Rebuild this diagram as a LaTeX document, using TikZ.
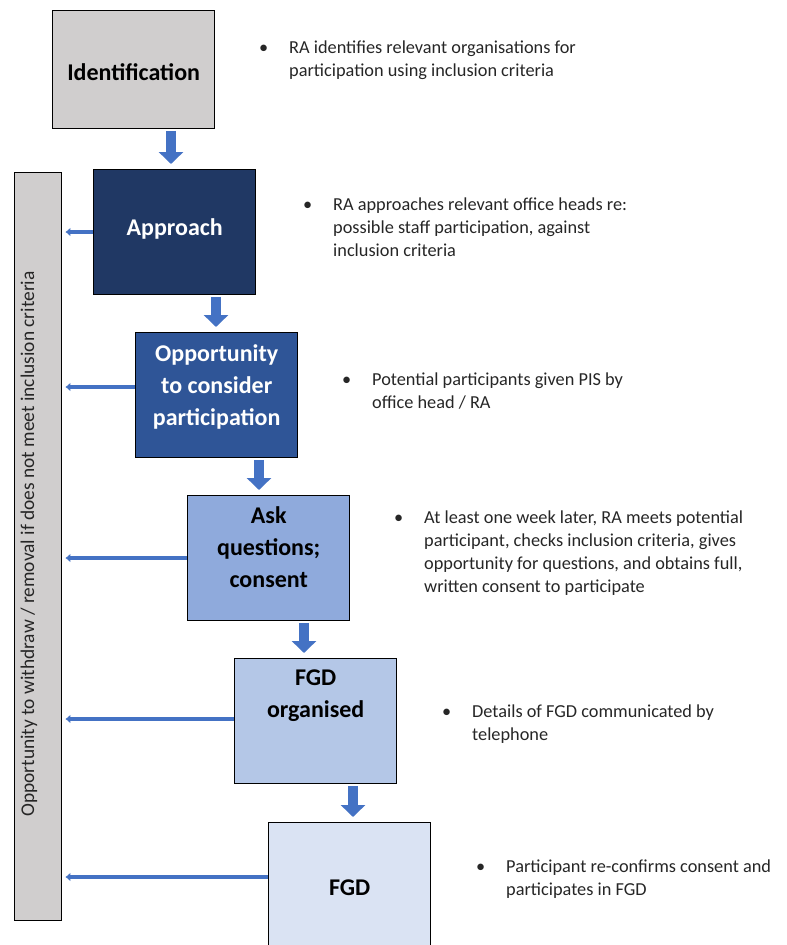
\documentclass[tikz,border=0pt]{standalone}
\usepackage{fontspec}
\setmainfont{Carlito}
\usetikzlibrary{arrows.meta}

\definecolor{idgrey}{HTML}{D0CECE}
\definecolor{navy}{HTML}{203864}
\definecolor{midblue}{HTML}{2F5597}
\definecolor{askblue}{HTML}{8FAADC}
\definecolor{orgblue}{HTML}{B4C7E7}
\definecolor{fgdblue}{HTML}{DAE3F3}
\definecolor{arrowblue}{HTML}{4472C4}

\tikzset{
  stepbox/.style={draw=black, line width=1.4pt, rectangle, inner sep=0pt,
    minimum width=162pt, minimum height=125pt, anchor=north west},
  % multi-line labels are placed by the baseline of their last line
  boxtext/.style={font=\bfseries\fontsize{24}{32}\selectfont, align=center,
    inner sep=0pt, anchor=base},
  notetext/.style={font=\fontsize{18.3}{23}\selectfont, align=left,
    inner sep=0pt, anchor=base west, text=black!85},
  flowarrow/.style={arrowblue, line width=10pt,
    -{Triangle[length=12pt,width=24pt]}, shorten >=5pt, shorten <=1.5pt},
  exitarrow/.style={arrowblue, line width=3.4pt,
    -{Latex[length=5pt,width=9pt]}, shorten >=3pt},
}
\newcommand{\bul}{\llap{\textbullet\hspace{21pt}}}

\begin{document}
\begin{tikzpicture}[x=1pt,y=-1pt]
  \clip (0,0) rectangle (787,945);
  \useasboundingbox (0,0) rectangle (787,945);

  % withdrawal bar on the left
  \node[draw=black, line width=1.4pt, fill=idgrey, inner sep=0pt,
        minimum width=47pt, minimum height=748pt, anchor=north west]
        (bar) at (14,172) {};
  \node[rotate=90, inner sep=0pt, font=\fontsize{19.4}{24}\selectfont, text=black!85]
        (bartext) at (29,544)
        {Opportunity to withdraw / removal if does not meet inclusion criteria};

  % process steps
  \node[stepbox, fill=idgrey, minimum height=118pt] (ident) at (52,10) {};
  \node[stepbox, fill=navy]    (appr) at (93,169) {};
  \node[stepbox, fill=midblue] (opp)  at (135,332) {};
  \node[stepbox, fill=askblue] (ask)  at (187,495) {};
  \node[stepbox, fill=orgblue] (org)  at (234,658) {};
  \node[stepbox, fill=fgdblue] (fgd)  at (268,822) {};

  % step titles
  \node[boxtext, text=black] (identlbl) at ([yshift=-70pt]ident.north) {Identification};
  \node[boxtext, text=white] (apprlbl)  at ([yshift=-66pt]appr.north) {Approach};
  \node[boxtext, text=white] (opplbl)   at ([yshift=-93pt]opp.north)
        {Opportunity\\to consider\\participation};
  \node[boxtext, text=black] (asklbl)   at ([yshift=-92pt]ask.north)
        {Ask\\questions;\\consent};
  \node[boxtext, text=black] (orglbl)   at ([yshift=-59pt]org.north)
        {FGD\\organised};
  \node[boxtext, text=black] (fgdlbl)   at ([yshift=-73pt]fgd.north) {FGD};

  % flow arrows between steps
  \coordinate (a1) at (171,0);
  \coordinate (a2) at (216,0);
  \coordinate (a3) at (259,0);
  \coordinate (a4) at (304,0);
  \coordinate (a5) at (353,0);
  \draw[flowarrow] (ident.south -| a1) -- (appr.north -| a1);
  \draw[flowarrow] (appr.south -| a2) -- (opp.north -| a2);
  \draw[flowarrow] (opp.south -| a3) -- (ask.north -| a3);
  \draw[flowarrow] (ask.south -| a4) -- (org.north -| a4);
  \draw[flowarrow] (org.south -| a5) -- (fgd.north -| a5);

  % exits to the withdrawal bar
  \coordinate (e1) at (0,232);
  \coordinate (e2) at (0,387);
  \coordinate (e3) at (0,558);
  \coordinate (e4) at (0,719);
  \coordinate (e5) at (0,877);
  \draw[exitarrow] (appr.west |- e1) -- (bar.east |- e1);
  \draw[exitarrow] (opp.west |- e2) -- (bar.east |- e2);
  \draw[exitarrow] (ask.west |- e3) -- (bar.east |- e3);
  \draw[exitarrow] (org.west |- e4) -- (bar.east |- e4);
  \draw[exitarrow] (fgd.west |- e5) -- (bar.east |- e5);

  % notes beside each step (positioned by the baseline of the last line)
  \node[notetext] (n1) at (289,76)
    {\bul RA identifies relevant organisations for\\participation using inclusion criteria};
  \node[notetext] (n2) at (333,256)
    {\bul RA approaches relevant office heads re:\\possible staff participation, against\\inclusion criteria};
  \node[notetext] (n3) at (372,408)
    {\bul Potential participants given PIS by\\office head / RA};
  \node[notetext] (n4) at (424,592)
    {\bul At least one week later, RA meets potential\\participant, checks inclusion criteria, gives\\opportunity for questions, and obtains full,\\written consent to participate};
  \node[notetext] (n5) at (472,740)
    {\bul Details of FGD communicated by\\telephone};
  \node[notetext] (n6) at (506,895)
    {\bul Participant re-confirms consent and\\participates in FGD};
\end{tikzpicture}
\end{document}
